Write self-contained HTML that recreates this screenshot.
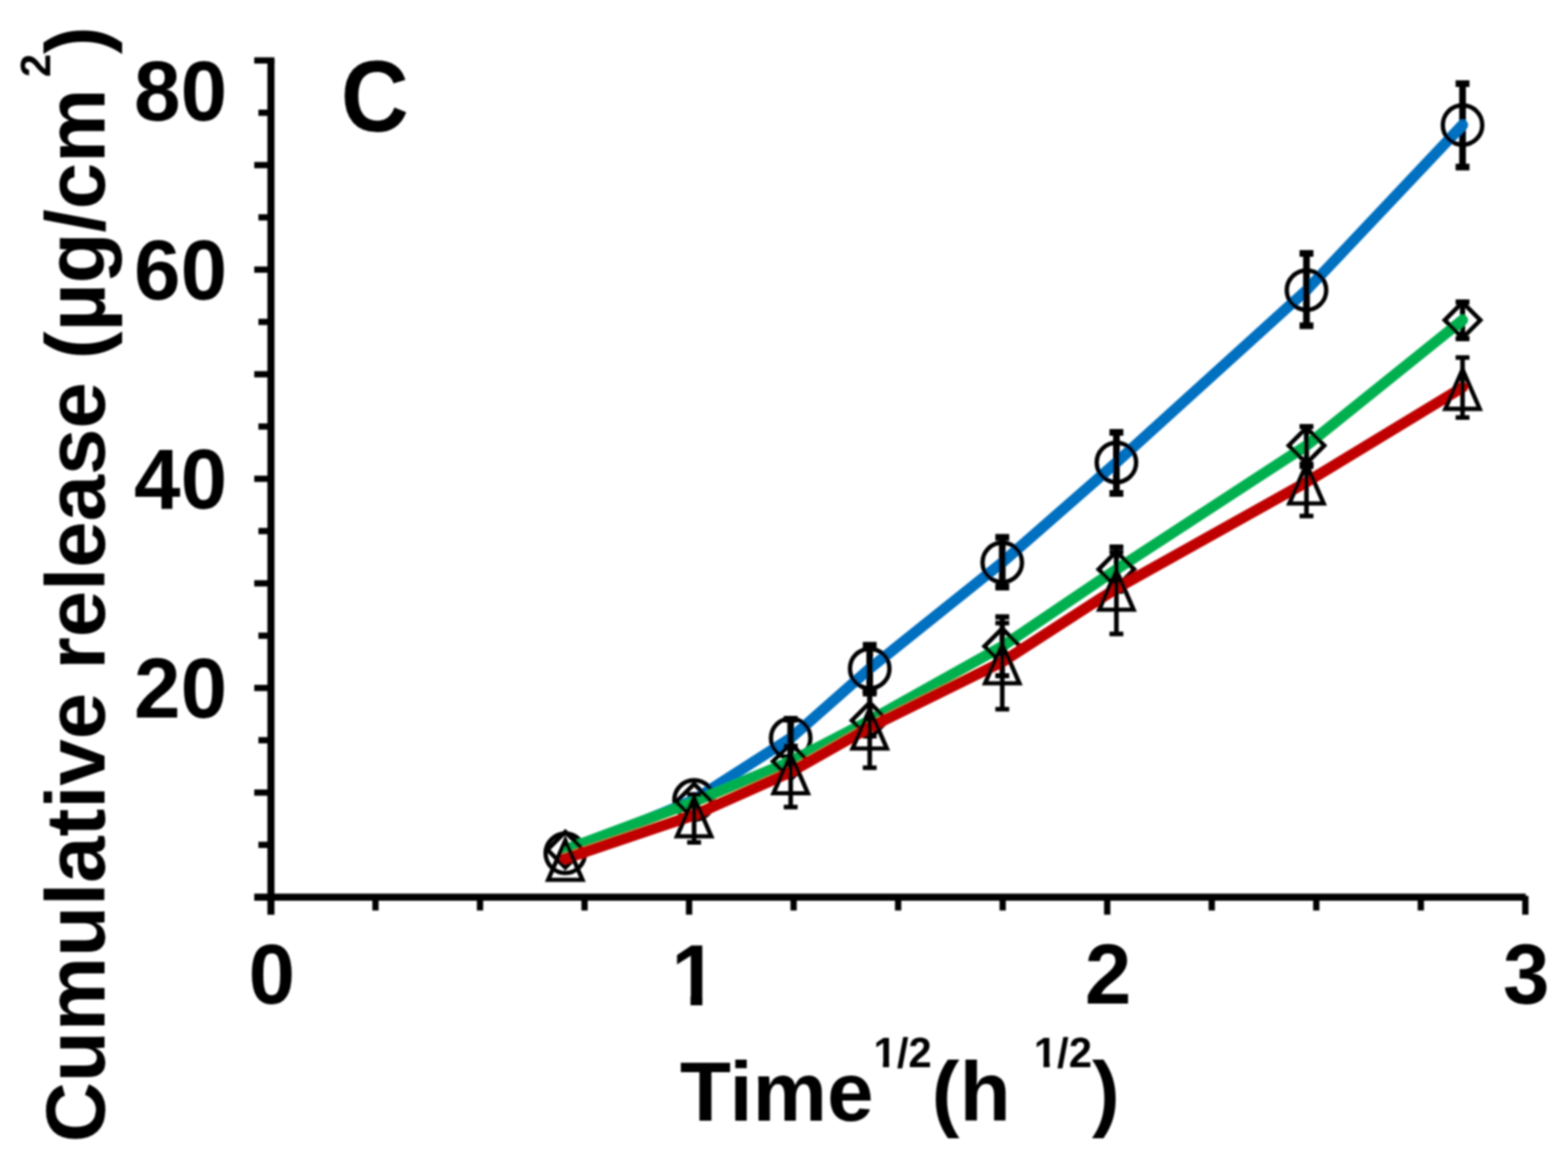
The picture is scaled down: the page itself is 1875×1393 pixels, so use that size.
<!DOCTYPE html>
<html lang="en">
<head>
<meta charset="utf-8">
<title>Cumulative release vs Time^1/2 (C)</title>
<style>
html,body{margin:0;padding:0;background:#fff;}
body{width:1875px;height:1393px;overflow:hidden;}
svg{display:block;}
.t{font-family:"Liberation Sans",sans-serif;font-weight:bold;fill:#000;}
.sup{font-size:50px;}
</style>
</head>
<body>
<svg width="1875" height="1393" viewBox="0 0 1875 1393">
<defs><filter id="soft" filterUnits="userSpaceOnUse" x="0" y="0" width="1875" height="1393"><feGaussianBlur stdDeviation="0.8"/></filter><clipPath id="nofoot" clipPathUnits="userSpaceOnUse"><path clip-rule="evenodd" d="M0,0H1875 V1393 H0Z M800,1190.5 H825.7 V1207 H800Z M839.9,1190.5 H864 V1207 H839.9Z M1043,1269.6 H1055.8 V1280 H1043Z M1063.2,1269.6 H1071.6 V1280 H1063.2Z M1235,1269.6 H1247.8 V1280 H1235Z M1255.2,1269.6 H1263.6 V1280 H1255.2Z"/></clipPath></defs>
<rect width="1875" height="1393" fill="#fff"/>
<g filter="url(#soft)">
<g fill="none" stroke="#000" stroke-width="8.5"><path d="M324.0,71.3 V1093.7" />
<path d="M304.0,1072.7 H1824.5" /></g>
<g fill="none" stroke="#000" stroke-width="7.5"><path d="M309.0,1010.2 H324.0" />
<path d="M304.0,947.7 H324.0" />
<path d="M309.0,885.1 H324.0" />
<path d="M304.0,822.6 H324.0" />
<path d="M309.0,760.1 H324.0" />
<path d="M304.0,697.5 H324.0" />
<path d="M309.0,635.0 H324.0" />
<path d="M304.0,572.5 H324.0" />
<path d="M309.0,510.0 H324.0" />
<path d="M304.0,447.5 H324.0" />
<path d="M309.0,384.9 H324.0" />
<path d="M304.0,322.4 H324.0" />
<path d="M309.0,259.9 H324.0" />
<path d="M304.0,197.4 H324.0" />
<path d="M309.0,134.8 H324.0" />
<path d="M304.0,72.3 H328.2" />
<path d="M449.0,1072.7 V1088.7" />
<path d="M574.0,1072.7 V1088.7" />
<path d="M699.0,1072.7 V1088.7" />
<path d="M824.0,1072.7 V1093.7" />
<path d="M949.0,1072.7 V1088.7" />
<path d="M1074.0,1072.7 V1088.7" />
<path d="M1199.0,1072.7 V1088.7" />
<path d="M1324.0,1072.7 V1093.7" />
<path d="M1449.0,1072.7 V1088.7" />
<path d="M1574.0,1072.7 V1088.7" />
<path d="M1699.0,1072.7 V1088.7" />
<path d="M1824.0,1071.2 V1093.7" /></g>
<path d="M676.0,1020.3 L830.0,956.5 L945.5,882.6 L1040.0,799.4 L1198.5,672.5 L1335.0,553.0 L1562.3,347.0 L1748.9,149.5" fill="none" stroke="#0070C0" stroke-width="13" stroke-linecap="round" stroke-linejoin="round"/>
<g fill="none" stroke="#000" stroke-width="8"><path d="M945.5,860.0 V906.0 M937.2,860.0 H953.8 M937.2,906.0 H953.8"/>
<path d="M1040.0,771.5 V825.5 M1031.7,771.5 H1048.3 M1031.7,825.5 H1048.3"/>
<path d="M1198.5,642.5 V702.0 M1190.2,642.5 H1206.8 M1190.2,702.0 H1206.8"/>
<path d="M1335.0,517.0 V590.0 M1326.7,517.0 H1343.3 M1326.7,590.0 H1343.3"/>
<path d="M1562.3,303.0 V389.5 M1554.0,303.0 H1570.6 M1554.0,389.5 H1570.6"/>
<path d="M1748.9,100.1 V199.8 M1740.6,100.1 H1757.2 M1740.6,199.8 H1757.2"/></g>
<path d="M1737.91,161.13 L1748.90,149.50" fill="none" stroke="#0070C0" stroke-width="13" stroke-linecap="round"/>
<g fill="none" stroke="#000" stroke-width="5.2" stroke-linejoin="miter"><circle cx="676.0" cy="1020.3" r="23.6"/>
<circle cx="830.0" cy="956.5" r="23.6"/>
<circle cx="945.5" cy="882.6" r="23.6"/>
<circle cx="1040.0" cy="799.4" r="23.6"/>
<circle cx="1198.5" cy="672.5" r="23.6"/>
<circle cx="1335.0" cy="553.0" r="23.6"/>
<circle cx="1562.3" cy="347.0" r="23.6"/>
<circle cx="1748.9" cy="149.5" r="23.6"/></g>
<path d="M676.0,1016.0 L830.0,958.7 L945.5,910.5 L1040.0,861.5 L1198.5,772.8 L1335.0,680.8 L1562.3,532.7 L1748.9,382.8" fill="none" stroke="#00B050" stroke-width="13" stroke-linecap="round" stroke-linejoin="round"/>
<g fill="none" stroke="#000" stroke-width="6.2"><path d="M945.5,893.0 V925.0 M937.2,893.0 H953.8 M937.2,925.0 H953.8"/>
<path d="M1040.0,826.0 V880.0 M1031.7,826.0 H1048.3 M1031.7,880.0 H1048.3"/>
<path d="M1198.5,737.7 V808.0 M1190.2,737.7 H1206.8 M1190.2,808.0 H1206.8"/>
<path d="M1335.0,654.0 V707.0 M1326.7,654.0 H1343.3 M1326.7,707.0 H1343.3"/>
<path d="M1562.3,510.0 V555.0 M1554.0,510.0 H1570.6 M1554.0,555.0 H1570.6"/>
<path d="M1748.9,361.2 V404.8 M1740.6,361.2 H1757.2 M1740.6,404.8 H1757.2"/></g>
<path d="M1736.43,392.82 L1748.90,382.80" fill="none" stroke="#00B050" stroke-width="13" stroke-linecap="round"/>
<g fill="none" stroke="#000" stroke-width="5.2" stroke-linejoin="miter"><path d="M676.0,994.7 l21.3,21.3 l-21.3,21.3 l-21.3,-21.3 Z"/>
<path d="M830.0,937.4 l21.3,21.3 l-21.3,21.3 l-21.3,-21.3 Z"/>
<path d="M945.5,889.2 l21.3,21.3 l-21.3,21.3 l-21.3,-21.3 Z"/>
<path d="M1040.0,840.2 l21.3,21.3 l-21.3,21.3 l-21.3,-21.3 Z"/>
<path d="M1198.5,751.5 l21.3,21.3 l-21.3,21.3 l-21.3,-21.3 Z"/>
<path d="M1335.0,659.5 l21.3,21.3 l-21.3,21.3 l-21.3,-21.3 Z"/>
<path d="M1562.3,511.4 l21.3,21.3 l-21.3,21.3 l-21.3,-21.3 Z"/>
<path d="M1748.9,361.5 l21.3,21.3 l-21.3,21.3 l-21.3,-21.3 Z"/></g>
<path d="M676.0,1026.5 L830.0,974.5 L945.5,923.0 L1040.0,869.5 L1198.5,791.5 L1335.0,703.5 L1562.3,576.5 L1748.9,463.3" fill="none" stroke="#C00000" stroke-width="13" stroke-linecap="round" stroke-linejoin="round"/>
<g fill="none" stroke="#000" stroke-width="5.5"><path d="M830.0,950.0 V1007.3 M821.7,950.0 H838.3 M821.7,1007.3 H838.3"/>
<path d="M945.5,892.0 V965.0 M937.2,892.0 H953.8 M937.2,965.0 H953.8"/>
<path d="M1040.0,830.0 V918.0 M1031.7,830.0 H1048.3 M1031.7,918.0 H1048.3"/>
<path d="M1198.5,745.0 V848.0 M1190.2,745.0 H1206.8 M1190.2,848.0 H1206.8"/>
<path d="M1335.0,660.0 V758.0 M1326.7,660.0 H1343.3 M1326.7,758.0 H1343.3"/>
<path d="M1562.3,558.0 V616.9 M1554.0,558.0 H1570.6 M1554.0,616.9 H1570.6"/>
<path d="M1748.9,427.5 V499.3 M1740.6,427.5 H1757.2 M1740.6,499.3 H1757.2"/></g>
<g fill="none" stroke="#000" stroke-width="5.2" stroke-linejoin="miter"><path d="M676.0,1005.0 L696.5,1052.0 L655.5,1052.0 Z"/>
<path d="M830.0,953.0 L850.5,1000.0 L809.5,1000.0 Z"/>
<path d="M945.5,901.5 L966.0,948.5 L925.0,948.5 Z"/>
<path d="M1040.0,848.0 L1060.5,895.0 L1019.5,895.0 Z"/>
<path d="M1198.5,770.0 L1219.0,817.0 L1178.0,817.0 Z"/>
<path d="M1335.0,682.0 L1355.5,729.0 L1314.5,729.0 Z"/>
<path d="M1562.3,555.0 L1582.8,602.0 L1541.8,602.0 Z"/>
<path d="M1748.9,441.8 L1769.4,488.8 L1728.4,488.8 Z"/></g>
<g clip-path="url(#nofoot)"><g class="t" font-size="100"><text transform="translate(325,1199.6) scale(1,1.02)" text-anchor="middle">0</text>
<text transform="translate(830.6,1201.9) scale(1,1.042)" text-anchor="middle">1</text>
<text transform="translate(1325,1199.6) scale(1,1.02)" text-anchor="middle">2</text>
<text transform="translate(1825,1199.6) scale(1,1.02)" text-anchor="middle">3</text>
<text transform="translate(271.5,143.5) scale(1,1.02)" text-anchor="end">80</text>
<text transform="translate(271.5,357.7) scale(1,1.02)" text-anchor="end">60</text>
<text transform="translate(271.5,607.8) scale(1,1.02)" text-anchor="end">40</text>
<text transform="translate(271.5,857.9) scale(1,1.02)" text-anchor="end">20</text>
<text transform="translate(407.5,156.5) scale(0.935,1)" font-size="120.5">C</text>
<text transform="translate(813,1340) scale(1,1)" xml:space="preserve">Time<tspan class="sup" dy="-64">1/2</tspan><tspan dy="64">(h </tspan><tspan class="sup" dy="-64">1/2</tspan><tspan dy="64">)</tspan></text>
<text transform="translate(125,1366) rotate(-90) scale(1,1)" letter-spacing="-0.15" xml:space="preserve">Cumulative release (µg/cm<tspan class="sup" dy="-65"> 2</tspan><tspan dy="65">)</tspan></text></g></g>
</g>
</svg>
</body>
</html>
